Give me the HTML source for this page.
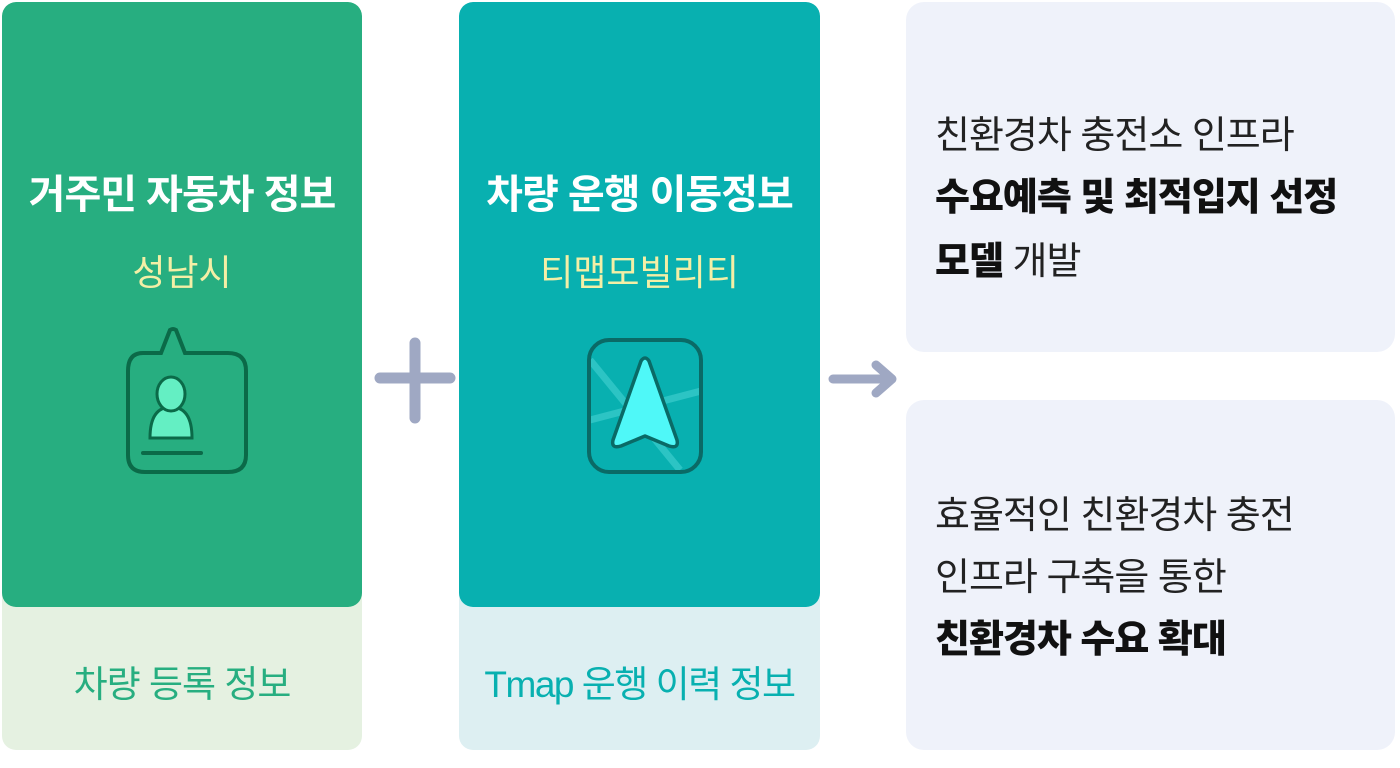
<!DOCTYPE html>
<html><head><meta charset="utf-8"><style>
body{margin:0;width:1400px;height:768px;background:#fff;position:relative;overflow:hidden;font-family:"Liberation Sans","Noto Sans CJK KR",sans-serif}
.card{position:absolute;top:2px;width:360px;height:748px;border-radius:14px;overflow:hidden}
.top{position:absolute;left:0;top:0;width:100%;height:605px;border-radius:14px}
.t{position:absolute;left:0;width:100%;text-align:center;white-space:nowrap}
.box{position:absolute;left:906px;width:489px;height:350px;background:#eff2fa;border-radius:18px}
.line{position:absolute;left:29px;font-size:38px;color:#222;white-space:nowrap;letter-spacing:-1px}
b{font-weight:900;color:#111}
</style></head><body>
<div class="card" style="left:2px;background:#e5f1e1">
 <div class="top" style="background:#27ae80"></div>
 <div class="t" style="top:160px;font-size:40px;font-weight:bold;color:#fff;letter-spacing:-1px">거주민 자동차 정보</div>
 <div class="t" style="top:242px;font-size:36px;color:#f3efa6">성남시</div>
 <div class="t" style="top:652px;font-size:37px;color:#27ae80;letter-spacing:-1px">차량 등록 정보</div>
 <svg style="position:absolute;left:100px;top:318px" width="160" height="170" viewBox="100 320 160 170">
  <path d="M141 353 H159 L168 330 Q171 328 174 330 L183 353 H226 Q244 353 244 371 V455 Q244 472 226 472 H143 Q126 472 126 455 V371 Q126 353 141 353 Z" fill="none" stroke="#0b6a48" stroke-width="4"/>
  <path d="M148 438 Q148 407 169 407 Q190 407 190 438 Z" fill="#64efc3" stroke="#0b6a48" stroke-width="3"/>
  <ellipse cx="169" cy="394" rx="14" ry="17" fill="#64efc3" stroke="#0b6a48" stroke-width="3"/>
  <line x1="141" y1="453" x2="199" y2="453" stroke="#0b6a48" stroke-width="4" stroke-linecap="round"/>
 </svg>
</div>
<svg style="position:absolute;left:370px;top:330px" width="90" height="100"><path d="M45 13 V88 M10 48 H80" stroke="#9fa8c3" stroke-width="11" stroke-linecap="round"/></svg>
<div class="card" style="left:459px;width:361px;background:#ddeff2">
 <div class="top" style="background:#08b0b0"></div>
 <div class="t" style="top:160px;font-size:40px;font-weight:bold;color:#fff;letter-spacing:-1px">차량 운행 이동정보</div>
 <div class="t" style="top:242px;font-size:36px;color:#f3efa6">티맵모빌리티</div>
 <div class="t" style="top:652px;font-size:37px;color:#08b0b0;letter-spacing:-1.5px">Tmap 운행 이력 정보</div>
 <svg style="position:absolute;left:128px;top:336px" width="120" height="140" viewBox="587 338 120 140">
  <clipPath id="c"><rect x="589" y="340" width="112" height="132" rx="20"/></clipPath>
  <g clip-path="url(#c)" stroke="#2cc4c4" stroke-width="7" fill="none"><line x1="590" y1="360" x2="680" y2="470"/><line x1="590" y1="420" x2="705" y2="390"/></g>
  <rect x="589" y="340" width="112" height="132" rx="20" fill="none" stroke="#0a6a66" stroke-width="4"/>
  <path d="M641 361 Q645 355 649 361 L677 440 Q679 449 669 446 L645 436 L621 446 Q611 449 613 440 Z" fill="#4ff8f8" stroke="#0a6a66" stroke-width="3.5" stroke-linejoin="round"/>
 </svg>
</div>
<svg style="position:absolute;left:828px;top:358px" width="75" height="42"><path d="M5 21 H62 M48 7 L64 21 L48 35" stroke="#9fa8c3" stroke-width="9" fill="none" stroke-linecap="round" stroke-linejoin="round"/></svg>
<div class="box" style="top:2px">
 <div class="line" style="top:102px">친환경차 충전소 인프라</div>
 <div class="line" style="top:164px"><b>수요예측 및 최적입지 선정</b></div>
 <div class="line" style="top:228px"><b>모델</b> 개발</div>
</div>
<div class="box" style="top:400px">
 <div class="line" style="top:84px">효율적인 친환경차 충전</div>
 <div class="line" style="top:146px">인프라 구축을 통한</div>
 <div class="line" style="top:208px"><b>친환경차 수요 확대</b></div>
</div>
</body></html>
